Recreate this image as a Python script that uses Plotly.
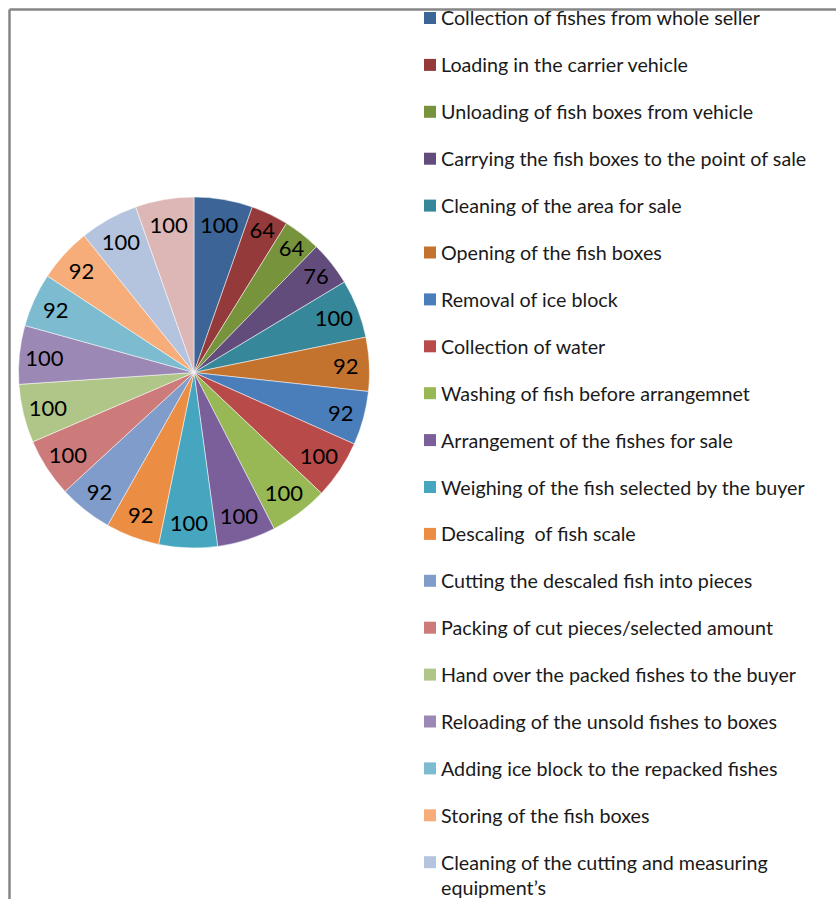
import plotly.graph_objects as go

W, H = 836, 899

activities = [
    "Collection of fishes from whole seller",
    "Loading in the carrier vehicle",
    "Unloading of fish boxes from vehicle",
    "Carrying the fish boxes to the point of sale",
    "Cleaning of the area for sale",
    "Opening of the fish boxes",
    "Removal of ice block",
    "Collection of water",
    "Washing of fish before arrangemnet",
    "Arrangement of the fishes for sale",
    "Weighing of the fish selected by the buyer",
    "Descaling  of fish scale",
    "Cutting the descaled fish into pieces",
    "Packing of cut pieces/selected amount",
    "Hand over the packed fishes to the buyer",
    "Reloading of the unsold fishes to boxes",
    "Adding ice block to the repacked fishes",
    "Storing of the fish boxes",
    "Cleaning of the cutting and measuring<br>equipment\u2019s",
    "Disposal of fish waste",
]
values = [100, 64, 64, 76, 100, 92, 92, 100, 100, 100,
          100, 92, 92, 100, 100, 100, 92, 92, 100, 100]
colors = ["#3C6496", "#953A3A", "#77933C", "#624C7C", "#37879A", "#C4732F",
          "#4A7EBB", "#B84B49", "#97B854", "#7A5F9A", "#46A5BF", "#EB8D43",
          "#7F9CCB", "#CC7B7A", "#AFC688", "#9C88B4", "#7CBBD0", "#F7AD7A",
          "#B5C4DE", "#DDB6B6"]

FONT = "Lato, 'Liberation Sans', Arial, sans-serif"


def px_x(x):
    return x / W


def px_y(y):
    return 1 - y / H


fig = go.Figure()
fig.add_trace(go.Pie(
    labels=[a.replace("<br>", " ") for a in activities],
    values=values,
    text=[str(v) for v in values],
    textinfo="text",
    textposition="inside",
    insidetextorientation="horizontal",
    textfont=dict(family=FONT, size=22, color="black"),
    marker=dict(colors=colors, line=dict(color="white", width=0.5)),
    sort=False,
    direction="clockwise",
    rotation=0,
    showlegend=False,
    domain=dict(x=[px_x(18), px_x(370)], y=[px_y(548), px_y(197)]),
))

shapes = [
    # chart-area border (cropped at right/bottom)
    dict(type="line", xref="paper", yref="paper", x0=px_x(9.5), x1=px_x(9.5),
         y0=0, y1=px_y(9.5), line=dict(color="#868686", width=2.5)),
    dict(type="line", xref="paper", yref="paper", x0=px_x(9.5), x1=1,
         y0=px_y(9.5), y1=px_y(9.5), line=dict(color="#868686", width=2.5)),
]
annotations = []
n_leg = 19
for i in range(n_leg):
    yc = 18 + 46.9 * i
    shapes.append(dict(type="rect", xref="paper", yref="paper",
                       x0=px_x(424), x1=px_x(436), y0=px_y(yc + 6), y1=px_y(yc - 6),
                       fillcolor=colors[i], line=dict(width=0)))
    for k, line in enumerate(activities[i].split("<br>")):
        annotations.append(dict(xref="paper", yref="paper", x=px_x(439),
                                y=px_y(yc + 25 * k),
                                xanchor="left", yanchor="middle", showarrow=False,
                                align="left", text=line,
                                font=dict(family=FONT, size=19.7, color="#1a1a1a")))

fig.update_layout(
    width=W, height=H,
    margin=dict(l=0, r=0, t=0, b=0),
    paper_bgcolor="white", plot_bgcolor="white",
    shapes=shapes, annotations=annotations,
    uniformtext=dict(minsize=22, mode="show"),
)
fig.write_html("out.html", config={"displayModeBar": False},
               post_script="document.body.style.margin='0';")
